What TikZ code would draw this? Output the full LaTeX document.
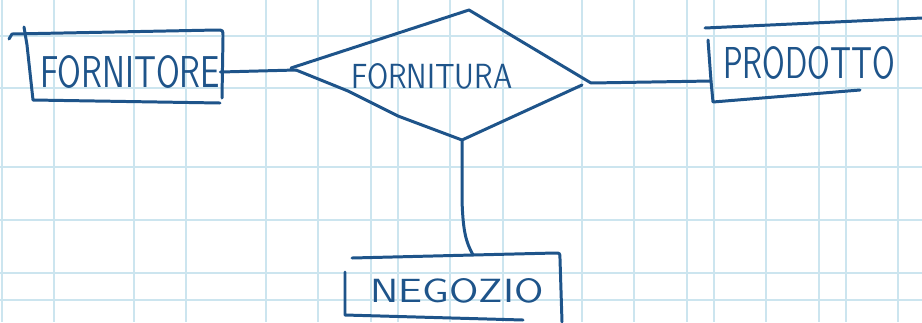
\documentclass[tikz,border=0pt]{standalone}
\usepackage{graphicx}
\definecolor{ink}{RGB}{30,84,138}
\definecolor{paperblue}{RGB}{204,229,239}

\begin{document}
\begin{tikzpicture}[
    x=0.02cm, y=-0.02cm,
    pen/.style={ink, line width=1.7pt, line cap=round, line join=round},
    paper/.style={paperblue, line width=0.9pt},
    word/.style={text=ink, font=\sffamily, inner sep=0pt}
]
\useasboundingbox (0,0) rectangle (922,322);
\fill[white] (0,0) rectangle (922,322);

% Squared paper
\foreach \gx in {2,54,134,186,266,318,371,398,450,503,582,634,687,714,766,819,846,898}
  \draw[paper] (\gx,0) -- (\gx,322);
\foreach \gy in {36,88,167,220,273,300}
  \draw[paper] (0,\gy) -- (922,\gy);

% Entity FORNITORE
\node[word] (fornitore) at (130,72) {\resizebox{3.6cm}{0.64cm}{FORNITORE}};
\draw[pen] (9,39) -- (12,34) -- (217,30) .. controls (223,30) .. (223,37) -- (222,98);
\draw[pen] (24,27) -- (27,45) -- (33,100) -- (220,103);

% Relationship FORNITURA
\coordinate (fw) at (296,70);
\coordinate (fn) at (469,10);
\coordinate (fe) at (591,83);
\coordinate (fs) at (462,140);
\node[word] (fornitura) at (432,76) {\resizebox{3.22cm}{0.5cm}{FORNITURA}};
\draw[pen] (291,68) -- (fn) -- (fe);
\draw[pen] (fw) -- (348,91) -- (398,116) -- (fs) -- (582,85);

% Entity PRODOTTO
\coordinate (pw) at (711,81);
\node[word] (prodotto) at (809,63) {\resizebox{3.44cm}{0.64cm}{PRODOTTO}};
\draw[pen] (705,28) -- (922,18);
\draw[pen] (708,40) -- (pw) -- (713,102) -- (860,90);

% Entity NEGOZIO
\coordinate (nn) at (473,255);
\node[word] (negozio) at (457,291) {\resizebox{3.46cm}{0.48cm}{NEGOZIO}};
\draw[pen] (352,258) -- (nn) -- (555,253) .. controls (560,253) .. (560,259) -- (562,322);
\draw[pen] (345,272) -- (345,315) -- (523,320);

% Connectors
\draw[pen] (fornitore.east) -- (fw);
\draw[pen] (fe) -- (pw);
\draw[pen] (fs) -- (462,200) .. controls (463,232) and (466,242) .. (nn);

\end{tikzpicture}
\end{document}
